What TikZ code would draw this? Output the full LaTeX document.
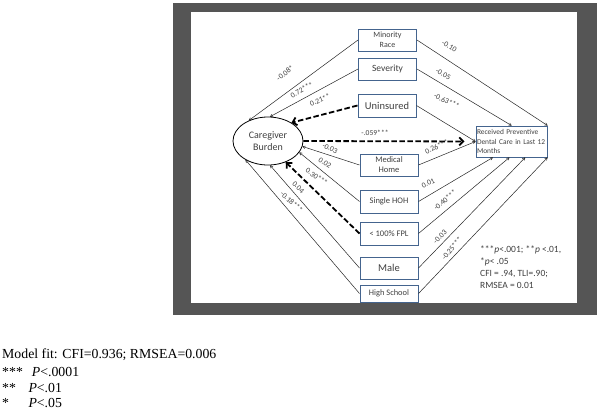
\documentclass[tikz,border=0pt]{standalone}
\usepackage{fontspec}
\setmainfont{Carlito}
\newfontfamily\timesfont{Liberation Serif}
\usetikzlibrary{arrows.meta,calc,shapes.geometric}
\definecolor{boxblue}{HTML}{44648E}
\definecolor{txtgray}{HTML}{404040}
\definecolor{framegray}{HTML}{555555}
\begin{document}
\begin{tikzpicture}[x=1pt,y=-1pt,
  box/.style={draw=boxblue, line width=1pt, minimum width=58pt, minimum height=22pt, inner sep=1pt, text=txtgray, align=center},
  conn/.style={line width=0.5pt, draw=black!85, -{To[length=3pt,width=3pt]}},
  bigdash/.style={line width=1.8pt, dash pattern=on 5.5pt off 2.5pt, -{Straight Barb[length=4pt,width=8pt]}},
  lab/.style={font=\fontsize{7.6}{8}\selectfont, text=txtgray, inner sep=0pt},
  note/.style={font=\fontsize{9.5}{10}\selectfont, text=txtgray, inner sep=0pt, anchor=west},
  foot/.style={font=\timesfont\fontsize{13.8}{14}\selectfont, inner sep=0pt, anchor=west}
]
\useasboundingbox (0,0) rectangle (600,413);
\fill[white] (0,0) rectangle (600,413);
\fill[framegray] (173,3) rectangle (597,315);
\fill[white] (191,12) rectangle (577,303);

% nodes
\node[box, font=\fontsize{8}{10}\selectfont] (minority) at (387.5,40) {Minority\\Race};
\node[box, font=\fontsize{9.5}{10}\selectfont] (severity) at (387.5,69) {Severity};
\node[box, font=\fontsize{10.5}{11}\selectfont, minimum height=23pt] (uninsured) at (387,105.5) {Uninsured};
\node[draw, ellipse, line width=0.8pt, minimum width=70pt, minimum height=48pt, inner sep=0pt, text=txtgray, align=center, font=\fontsize{10}{12}\selectfont] (burden) at (268,141) {Caregiver\\Burden};
\node[box, minimum height=31pt, text width=69pt, inner sep=1pt, align=left, font=\fontsize{7.4}{9.2}\selectfont] (received) at (511.5,141.5) {Received Preventive\\Dental Care in Last 12\\Months};
\node[box, font=\fontsize{8.5}{10}\selectfont] (medical) at (389,165) {Medical\\Home};
\node[box, font=\fontsize{8.5}{9}\selectfont, minimum height=23pt] (single) at (389,201.5) {Single HOH};
\node[box, font=\fontsize{8.5}{9}\selectfont, minimum height=23pt] (fpl) at (389,233.5) {< 100\% FPL};
\node[box, font=\fontsize{10.5}{11}\selectfont] (male) at (389,268) {Male};
\node[box, font=\fontsize{8.4}{9}\selectfont, minimum height=17pt] (hs) at (389,293.5) {High School};

% paths to caregiver burden
\draw[conn] (minority.west) -- (burden.133);
\draw[conn] (severity.west) -- (burden.85);
\draw[bigdash] (uninsured.west) -- (burden.38);
\draw[conn] (medical.west) -- (burden.-9);
\draw[conn] (single.west) -- (burden.-20);
\draw[bigdash] (fpl.west) -- (burden.-50);
\draw[conn] (male.west) -- (burden.-85);
\draw[conn] (hs.west) -- (burden.-140);

% paths to received
\draw[bigdash, shorten >=11pt] (burden.east) -- (received.west);
\draw[conn] (minority.east) -- (received.north east);
\draw[conn] (severity.east) -- (received.north);
\draw[conn] (uninsured.east) -- (received.west);
\draw[conn] (medical.east) -- (received.west);
\draw[conn] (single.east) -- ($(received.south west)!0.24!(received.south east)$);
\draw[conn] (fpl.east) -- ($(received.south west)!0.47!(received.south east)$);
\draw[conn] (male.east) -- ($(received.south west)!0.69!(received.south east)$);
\draw[conn] (hs.east) -- (received.south east);

% labels
\node[lab, rotate=38] (l1) at (285,73) {-0.08*};
\node[lab, rotate=30] (l2) at (301.7,90) {0.72***};
\node[lab, rotate=22] (l3) at (320,100) {0.21**};
\node[lab] (l4) at (375,133.3) {-.059***};
\node[lab, rotate=-30] (l5) at (449.3,46) {-0.10};
\node[lab, rotate=-28] (l6) at (443.3,74.3) {-0.05};
\node[lab, rotate=-25] (l7) at (446.7,101) {-0.63***};
\node[lab, rotate=25] (l8) at (436.7,146.7) {0.26***};
\node[lab, rotate=-25] (l9) at (330,148.3) {-0.03};
\node[lab, rotate=-32] (l10) at (325,163.3) {0.02};
\node[lab, rotate=-35] (l11) at (316.7,176.7) {0.30***};
\node[lab, rotate=-45] (l12) at (298.3,187.3) {0.04};
\node[lab, rotate=-42] (l13) at (291.7,201.7) {-0.18***};
\node[lab, rotate=25] (l14) at (428.3,183.3) {0.01};
\node[lab, rotate=40] (l15) at (445,200) {-0.40***};
\node[lab, rotate=45] (l16) at (440,236.7) {-0.03};
\node[lab, rotate=50] (l17) at (451.7,248.3) {-0.25***};

% statistics note
\node[note] (n1) at (480,250) {***\textit{p}<.001; **\textit{p} <.01,};
\node[note] (n2) at (480,261.7) {*\textit{p}< .05};
\node[note] (n3) at (480,274) {CFI = .94, TLI=.90;};
\node[note] (n4) at (480,285.7) {RMSEA = 0.01};

% footnote
\node[foot] (f1) at (2,355) {Model fit: CFI=0.936; RMSEA=0.006};
\node[foot] (f2) at (2,371.7) {***};
\node[foot] (f2b) at (31.7,371.7) {\textit{P}<.0001};
\node[foot] (f3) at (2,388.3) {**};
\node[foot] (f3b) at (28.3,388.3) {\textit{P}<.01};
\node[foot] (f4) at (2,402.7) {*};
\node[foot] (f4b) at (28.3,402.7) {\textit{P}<.05};
\end{tikzpicture}
\end{document}
